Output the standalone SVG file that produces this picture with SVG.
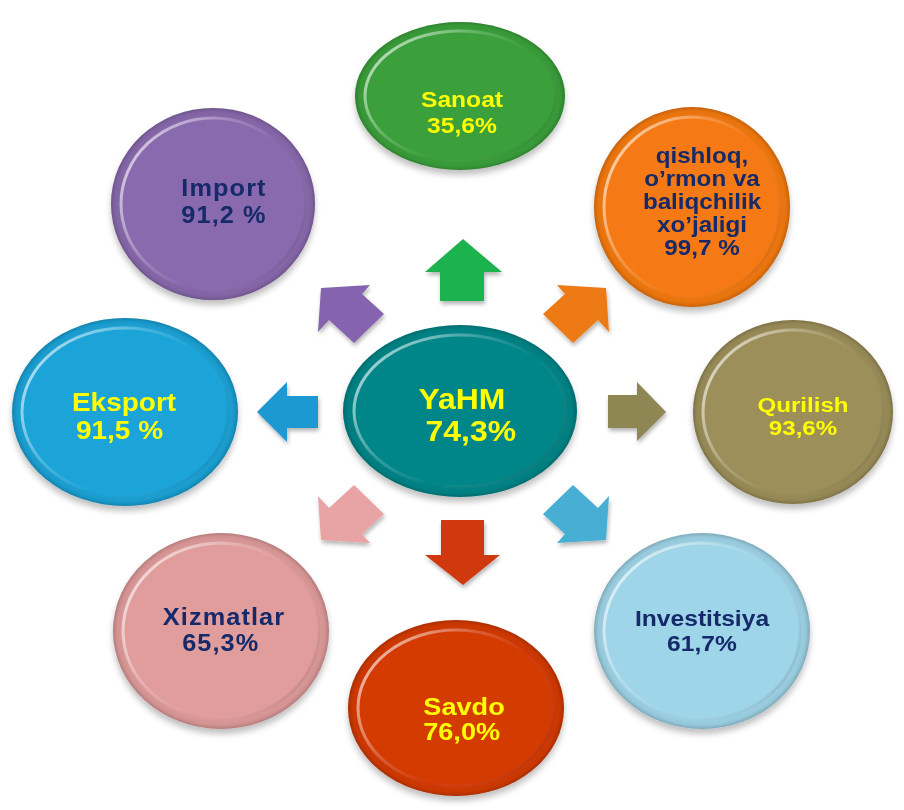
<svg xmlns="http://www.w3.org/2000/svg" width="904" height="810" viewBox="0 0 904 810">
<defs>
<radialGradient id="ringShade" cx="50%" cy="50%" r="50%">
<stop offset="0.85" stop-color="#000" stop-opacity="0"/>
<stop offset="0.96" stop-color="#000" stop-opacity="0.06"/>
<stop offset="1" stop-color="#000" stop-opacity="0.2"/>
</radialGradient>
<linearGradient id="rimHL" x1="0" y1="0.2" x2="1" y2="0.8">
<stop offset="0" stop-color="#fff" stop-opacity="0.7"/>
<stop offset="0.35" stop-color="#fff" stop-opacity="0.2"/>
<stop offset="0.6" stop-color="#fff" stop-opacity="0"/>
<stop offset="1" stop-color="#000" stop-opacity="0.12"/>
</linearGradient>
<filter id="shadow" x="-20%" y="-20%" width="140%" height="150%">
<feGaussianBlur in="SourceAlpha" stdDeviation="3"/>
<feOffset dx="0" dy="5" result="b"/>
<feComponentTransfer><feFuncA type="linear" slope="0.25"/></feComponentTransfer>
<feMerge><feMergeNode/><feMergeNode in="SourceGraphic"/></feMerge>
</filter>
<filter id="ashadow" x="-20%" y="-20%" width="140%" height="150%">
<feGaussianBlur in="SourceAlpha" stdDeviation="2"/>
<feOffset dx="1" dy="3"/>
<feComponentTransfer><feFuncA type="linear" slope="0.3"/></feComponentTransfer>
<feMerge><feMergeNode/><feMergeNode in="SourceGraphic"/></feMerge>
</filter>
</defs>
<style>
.node{filter:url(#shadow)}
.shade{fill:url(#ringShade)}
.rim{stroke:url(#rimHL);stroke-width:3}
text{font-family:"Liberation Sans",Arial,sans-serif;font-weight:bold;text-anchor:middle}
.y{fill:#ffff00}
.n{fill:#132a6b}
.arr{filter:url(#ashadow)}
</style>

<g id="connectors">
<path class="arr" fill="#1fb350" d="M440 301 V272 H425 L463 239 L502 272 H484 V301 Z"/>
<path class="arr" fill="#ee7a15" d="M606 288 L557 285 L565 294 L543 314 L573 343 L598 320 L609 332 Z"/>
<path class="arr" fill="#8e8653" d="M608 395 H637 V382 L666 412 L637 441 V428 H608 Z"/>
<path class="arr" fill="#4aaed4" d="M606 540 L557 543 L565 534 L543 514 L573 485 L598 508 L609 496 Z"/>
<path class="arr" fill="#d0390e" d="M441 520 H484 V555 H500 L463 585 L425 555 H441 Z"/>
<path class="arr" fill="#e8a3a5" d="M321 540 L370 543 L362 534 L384 514 L354 485 L329 508 L318 496 Z"/>
<path class="arr" fill="#1a99d0" d="M318 396 H287 V382 L257 412 L287 442 V428 H318 Z"/>
<path class="arr" fill="#8664ae" d="M321 288 L370 285 L362 294 L384 314 L354 343 L329 320 L318 332 Z"/>
</g>

<g id="sanoat" class="node">
<ellipse cx="460" cy="96" rx="105" ry="74" fill="#3aa03a"/>
<ellipse cx="460" cy="96" rx="105" ry="74" class="shade"/>
<ellipse cx="460" cy="96" rx="95" ry="65" fill="#3aa03a" class="rim"/>
<text class="y" font-size="22" transform="translate(462 0) scale(1.12 1)"><tspan x="0" y="107">Sanoat</tspan><tspan x="0" y="133">35,6%</tspan></text>
</g>

<g id="import" class="node">
<ellipse cx="213" cy="204" rx="102" ry="96" fill="#8a6aae"/>
<ellipse cx="213" cy="204" rx="102" ry="96" class="shade"/>
<ellipse cx="213" cy="204" rx="92" ry="86" fill="#8a6aae" class="rim"/>
<text class="n" font-size="23" letter-spacing="1" transform="translate(224 0) scale(1.1 1)"><tspan x="0" y="196">Import</tspan><tspan x="0" y="223">91,2 %</tspan></text>
</g>

<g id="qishloq" class="node">
<ellipse cx="692" cy="207" rx="98" ry="100" fill="#f57a12"/>
<ellipse cx="692" cy="207" rx="98" ry="100" class="shade"/>
<ellipse cx="692" cy="207" rx="88" ry="90" fill="#f57a12" class="rim"/>
<text class="n" font-size="22" transform="translate(702 0) scale(1.1 1)"><tspan x="0" y="163">qishloq,</tspan><tspan x="0" y="186">o’rmon va</tspan><tspan x="0" y="209">baliqchilik</tspan><tspan x="0" y="232">xo’jaligi</tspan><tspan x="0" y="255">99,7 %</tspan></text>
</g>

<g id="eksport" class="node">
<ellipse cx="125" cy="412" rx="113" ry="94" fill="#1ba4d8"/>
<ellipse cx="125" cy="412" rx="113" ry="94" class="shade"/>
<ellipse cx="125" cy="412" rx="103" ry="84" fill="#1ba4d8" class="rim"/>
<text class="y" font-size="25" transform="translate(124 0) scale(1.12 1)"><tspan x="0" y="411">Eksport</tspan><tspan x="-4" y="439">91,5 %</tspan></text>
</g>

<g id="yahm" class="node">
<ellipse cx="460" cy="411" rx="117" ry="86" fill="#048688"/>
<ellipse cx="460" cy="411" rx="117" ry="86" class="shade"/>
<ellipse cx="460" cy="411" rx="106" ry="76" fill="#048688" class="rim"/>
<text class="y" font-size="29" transform="translate(462 0) scale(1.1 1)"><tspan x="0" y="409">YaHM</tspan><tspan x="8" y="441">74,3%</tspan></text>
</g>

<g id="qurilish" class="node">
<ellipse cx="793" cy="412" rx="100" ry="92" fill="#9c8f5a"/>
<ellipse cx="793" cy="412" rx="100" ry="92" class="shade"/>
<ellipse cx="793" cy="412" rx="90" ry="82" fill="#9c8f5a" class="rim"/>
<text class="y" font-size="21" transform="translate(803 0) scale(1.15 1)"><tspan x="0" y="412">Qurilish</tspan><tspan x="0" y="435">93,6%</tspan></text>
</g>

<g id="xizmatlar" class="node">
<ellipse cx="221" cy="631" rx="108" ry="98" fill="#e19c9c"/>
<ellipse cx="221" cy="631" rx="108" ry="98" class="shade"/>
<ellipse cx="221" cy="631" rx="98" ry="88" fill="#e19c9c" class="rim"/>
<text class="n" font-size="23" letter-spacing="1" transform="translate(224 0) scale(1.1 1)"><tspan x="0" y="625">Xizmatlar</tspan><tspan x="-3" y="651">65,3%</tspan></text>
</g>

<g id="savdo" class="node">
<ellipse cx="456" cy="708" rx="108" ry="88" fill="#d43a06"/>
<ellipse cx="456" cy="708" rx="108" ry="88" class="shade"/>
<ellipse cx="456" cy="708" rx="98" ry="78" fill="#d43a06" class="rim"/>
<text class="y" font-size="23" transform="translate(464 0) scale(1.18 1)"><tspan x="0" y="715">Savdo</tspan><tspan x="-2" y="740">76,0%</tspan></text>
</g>

<g id="investitsiya" class="node">
<ellipse cx="702" cy="631" rx="108" ry="98" fill="#9fd5e8"/>
<ellipse cx="702" cy="631" rx="108" ry="98" class="shade"/>
<ellipse cx="702" cy="631" rx="98" ry="88" fill="#9fd5e8" class="rim"/>
<text class="n" font-size="22" transform="translate(702 0) scale(1.12 1)"><tspan x="0" y="626">Investitsiya</tspan><tspan x="0" y="651">61,7%</tspan></text>
</g>
</svg>
